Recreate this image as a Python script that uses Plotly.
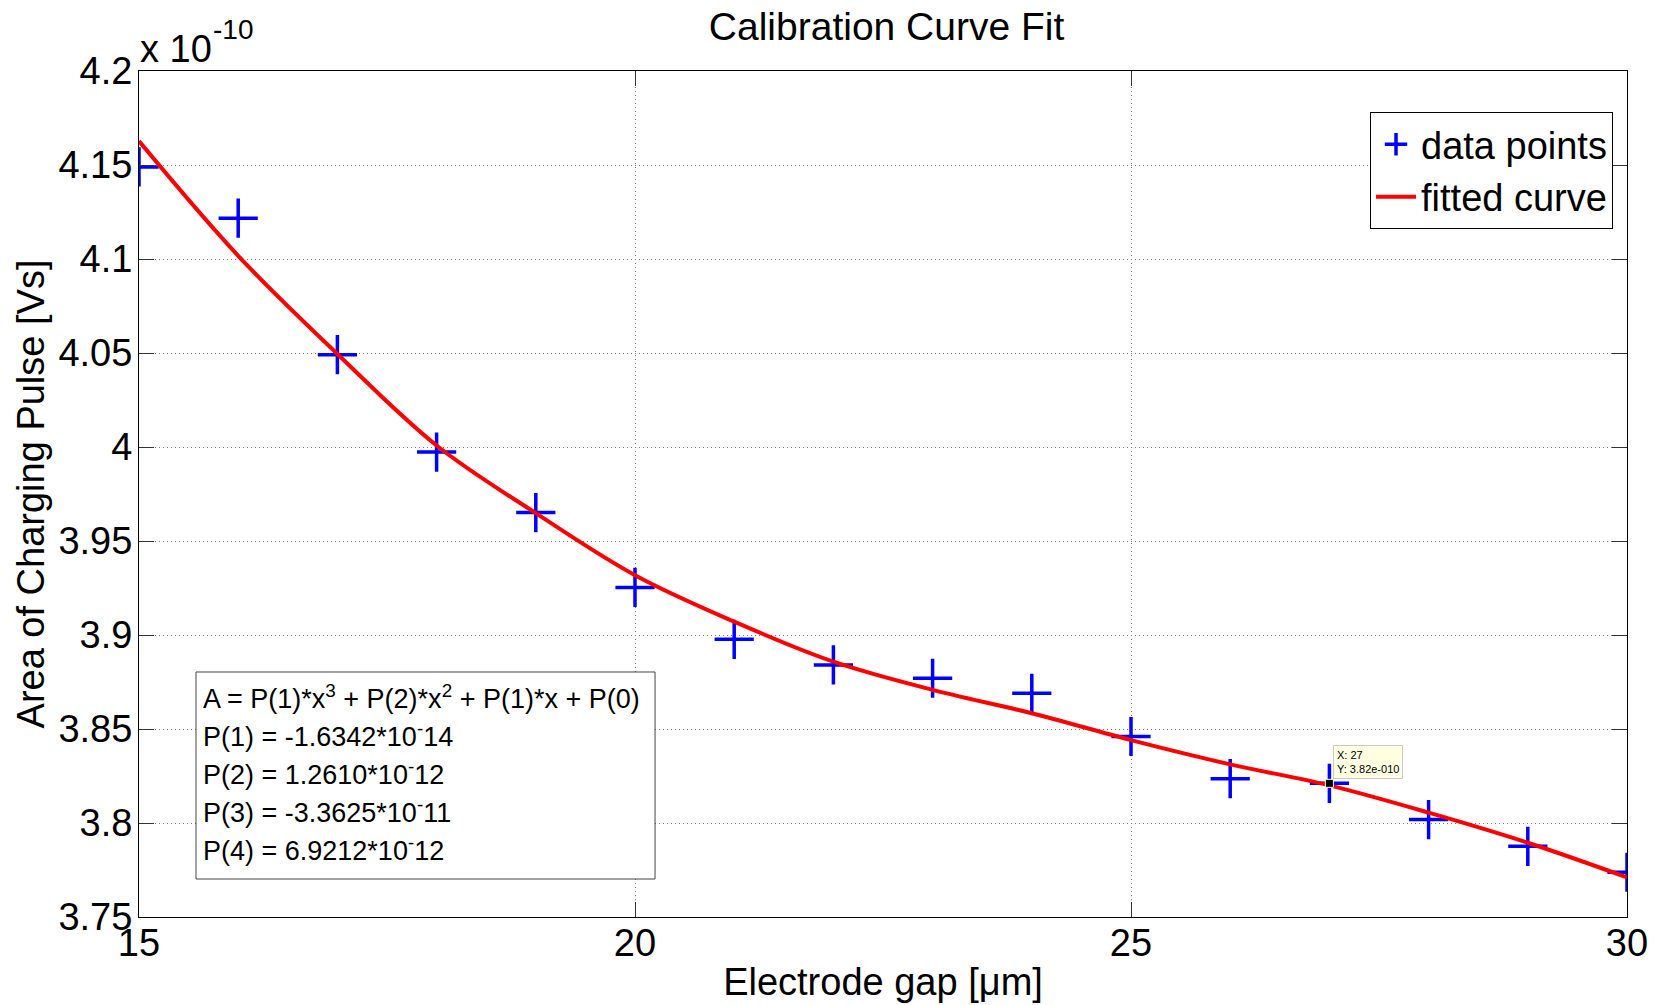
import plotly.graph_objects as go

# ---- data (area values in units of 1e-10 Vs) ----
gap_um = [15, 16, 17, 18, 19, 20, 21, 22, 23, 24, 25, 26, 27, 28, 29, 30]
area_e10 = [4.1490, 4.1217, 4.0491, 3.9973, 3.9651, 3.9253, 3.8977, 3.8841,
            3.8770, 3.8690, 3.8460, 3.8236, 3.8211, 3.8018, 3.7876, 3.7738]
fit_gap_um = [15, 16, 17, 18, 19, 20, 21, 22, 23, 24, 25, 26, 27, 28, 29, 30]
fit_area_e10 = [4.1627, 4.1017, 4.0495, 4.0008, 3.9648, 3.9318, 3.9071, 3.8858,
                3.8708, 3.8584, 3.8441, 3.8312, 3.8200, 3.8055, 3.7895, 3.7711]
x_tickvals = [15, 20, 25, 30]
y_tickvals = [3.75, 3.80, 3.85, 3.90, 3.95, 4.00, 4.05, 4.10, 4.15, 4.20]
y_ticklabels = ["3.75", "3.8", "3.85", "3.9", "3.95", "4", "4.05", "4.1", "4.15", "4.2"]
tip_index = 12
equation_lines = [
    "A = P(1)*x<sup>3</sup> + P(2)*x<sup>2</sup> + P(1)*x + P(0)",
    "P(1) = -1.6342*10<sup>-</sup>14",
    "P(2) = 1.2610*10<sup>-</sup>12",
    "P(3) = -3.3625*10<sup>-</sup>11",
    "P(4) = 6.9212*10<sup>-</sup>12",
]

FONT = "Liberation Sans, Arial, Helvetica, sans-serif"

fig = go.Figure()

fig.add_trace(go.Scatter(
    x=gap_um, y=area_e10, mode="markers", name="data points",
    marker=dict(symbol="cross-thin", size=28, color="#0000FF",
                line=dict(color="#0000FF", width=3.5)),
))
fig.add_trace(go.Scatter(
    x=fit_gap_um, y=fit_area_e10, mode="lines", name="fitted curve",
    line=dict(color="#FF0000", width=4, shape="spline"),
))
# data tip marker
fig.add_trace(go.Scatter(
    x=[gap_um[tip_index]], y=[area_e10[tip_index]], mode="markers",
    showlegend=False, hoverinfo="skip",
    marker=dict(symbol="square", size=8, color="#000000",
                line=dict(color="#FFFFCC", width=1)),
))

axis_common = dict(
    showline=True, linecolor="#000000", linewidth=1, mirror="ticks",
    ticks="inside", ticklen=15, tickcolor="#333333", tickwidth=1,
    showgrid=True, gridcolor="#777777", griddash="1px,3px", gridwidth=1,
    zeroline=False, tickfont=dict(family=FONT, size=38, color="#000000"),
)

fig.update_xaxes(range=[15, 30], tickvals=x_tickvals, ticklabelstandoff=-8,
                 title=dict(text="Electrode gap [&#956;m]",
                            font=dict(family=FONT, size=38, color="#000000"),
                            standoff=5),
                 **axis_common)
fig.update_yaxes(range=[3.75, 4.2], tickvals=y_tickvals, ticktext=y_ticklabels,
                 ticklabelstandoff=-2,
                 title=dict(text="Area of Charging Pulse [Vs]",
                            font=dict(family=FONT, size=38, color="#000000"),
                            standoff=2),
                 **axis_common)

annotations = [
    dict(text="x 10", xref="paper", yref="paper", x=0, y=1,
         xanchor="left", yanchor="bottom", showarrow=False,
         font=dict(family=FONT, size=38, color="#000000"), borderpad=0),
    dict(text="-10", xref="paper", yref="paper", x=0.0490, y=1.0485,
         xanchor="left", yanchor="middle", showarrow=False,
         font=dict(family=FONT, size=28, color="#000000"), borderpad=0),
    dict(text="X: " + str(gap_um[tip_index]) + "<br>Y: 3.82e-010",
         x=gap_um[tip_index], y=area_e10[tip_index], xref="x", yref="y",
         xanchor="left", yanchor="bottom", xshift=4, yshift=4, showarrow=False,
         align="left", bgcolor="#FFFFE1", bordercolor="#C8C8C8", borderwidth=1,
         borderpad=3, font=dict(family=FONT, size=11, color="#000000")),
]
line_y = [0.2596, 0.2148, 0.1700, 0.1252, 0.0805]
for txt, yy in zip(equation_lines, line_y):
    annotations.append(dict(text=txt, xref="paper", yref="paper", x=0.0418, y=yy,
                            xanchor="left", yanchor="middle", showarrow=False,
                            font=dict(family=FONT, size=27, color="#000000")))

fig.update_layout(
    width=1653, height=997,
    margin=dict(l=131, r=34, t=63, b=88, autoexpand=False),
    paper_bgcolor="#FFFFFF", plot_bgcolor="#FFFFFF",
    title=dict(text="Calibration Curve Fit", x=0.5315, xanchor="center",
               y=0.9814, yanchor="middle",
               font=dict(family=FONT, size=39, color="#000000")),
    legend=dict(x=0.9906, xanchor="right", y=0.9515, yanchor="top",
                bgcolor="#FFFFFF", bordercolor="#000000", borderwidth=1,
                font=dict(family=FONT, size=38, color="#000000"),
                tracegroupgap=0, itemwidth=40),
    shapes=[dict(type="rect", xref="paper", yref="paper",
                 x0=0.0383, x1=0.3468, y0=0.0449, y1=0.2896,
                 line=dict(color="#444444", width=1),
                 fillcolor="#FFFFFF", layer="above")],
    annotations=annotations,
    showlegend=True,
)

fig.write_html("out.html")
